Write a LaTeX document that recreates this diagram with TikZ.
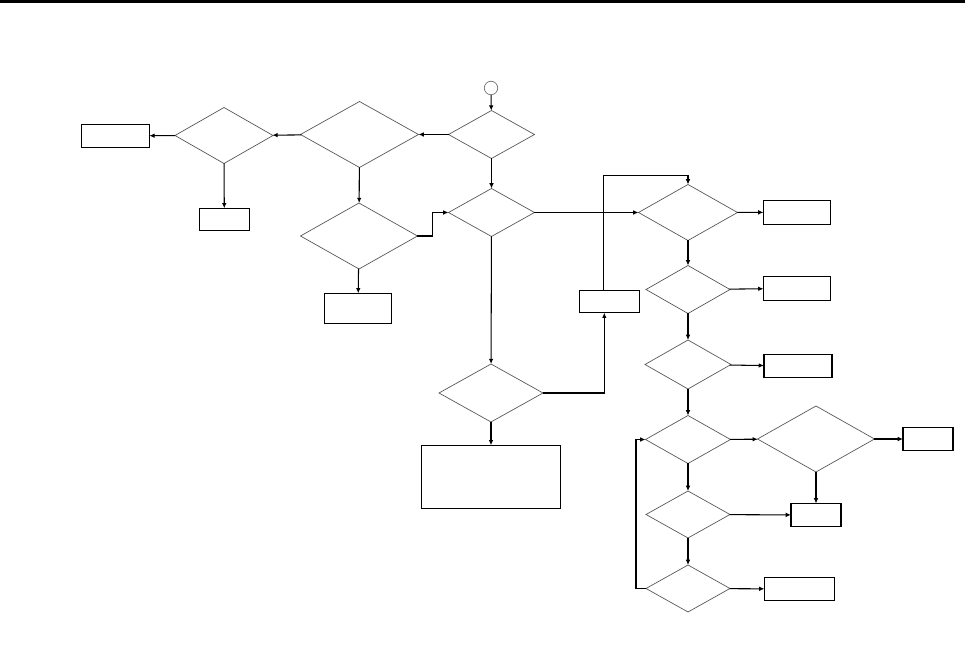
\documentclass[tikz,border=0pt]{standalone}
\usepackage{tikz}
\usetikzlibrary{arrows.meta,shapes.geometric}
\tikzset{
  decbox/.style={diamond, draw=black!65, line width=0.4pt, inner sep=0pt,
    outer sep=0pt},
  endbox/.style={rectangle, draw, line width=0.8pt, inner sep=0pt,
    outer sep=0pt, minimum height=0.46cm},
  startdot/.style={circle, draw=black!55, line width=0.4pt, inner sep=0pt,
    minimum size=0.27cm},
  arrw/.style={-{Latex[length=3pt,width=2.6pt]}, line width=0.6pt},
}

\begin{document}
\begin{tikzpicture}[x=0.02cm, y=-0.02cm]
  \useasboundingbox (0,0) rectangle (965,665);
  \fill (0,0) rectangle (965,2.6);

  % Start and top row
  \node[startdot] (start) at (491,88) {};
  \node[decbox, minimum width=1.72cm, minimum height=0.96cm] (d1) at (491.5,134.5) {};
  \node[decbox, minimum width=2.36cm, minimum height=1.32cm] (d2) at (359.5,134.5) {};
  \node[decbox, minimum width=1.96cm, minimum height=1.12cm] (d3) at (224,135.5) {};
  \node[endbox, minimum width=1.36cm] (b1) at (115.3,135.8) {};
  \node[endbox, minimum width=1.0cm, minimum height=0.44cm] (b2) at (224.3,219.3) {};

  % Left branch
  \node[decbox, minimum width=2.34cm, minimum height=1.32cm] (d4) at (359,236) {};
  \node[endbox, minimum width=1.34cm, minimum height=0.6cm] (b3) at (358,308.3) {};

  % Middle column
  \node[decbox, minimum width=1.72cm, minimum height=0.96cm] (d5) at (491.5,212.5) {};
  \node[decbox, minimum width=2.08cm, minimum height=1.16cm] (d9) at (491,393) {};
  \node[endbox, minimum width=2.78cm, minimum height=1.26cm] (b4) at (491,476.8) {};
  \node[endbox, minimum width=1.2cm, minimum height=0.44cm] (bl) at (609.3,301.7) {};

  % Right column
  \node[decbox, minimum width=1.98cm, minimum height=1.12cm] (d6) at (688,212.5) {};
  \node[decbox, minimum width=1.68cm, minimum height=0.96cm] (d7) at (688,289.5) {};
  \node[decbox, minimum width=1.72cm, minimum height=0.98cm] (d8) at (688,364.5) {};
  \node[decbox, minimum width=1.70cm, minimum height=0.96cm] (d10) at (688,439.5) {};
  \node[decbox, minimum width=1.68cm, minimum height=0.94cm] (d12) at (688,514.5) {};
  \node[decbox, minimum width=1.68cm, minimum height=0.94cm] (d13) at (688,588.5) {};
  \node[decbox, minimum width=2.34cm, minimum height=1.32cm] (d11) at (816,439) {};

  \node[endbox, minimum width=1.34cm, minimum height=0.48cm] (r1) at (797,212.3) {};
  \node[endbox, minimum width=1.34cm, minimum height=0.48cm] (r2) at (797,288.5) {};
  \node[endbox, minimum width=1.36cm] (r3) at (798,366) {};
  \node[endbox, minimum width=1.0cm] (r4) at (928,439) {};
  \node[endbox, minimum width=1.0cm] (r5) at (816,515) {};
  \node[endbox, minimum width=1.40cm] (r6) at (799.5,589) {};

  \coordinate (looptop) at (603.3,175.3);
  \coordinate (upline) at (604.3,0);

  % Arrows, top
  \draw[arrw] (start) -- (d1);
  \draw[arrw] (d1) -- (d2);
  \draw[arrw] (d2) -- (d3);
  \draw[arrw] (d3) -- (b1);
  \draw[arrw] (d3) -- (b2);
  \draw[arrw] (d2) -- (d4);
  \draw[arrw] (d4) -- (b3);
  \draw[arrw] (d4.east) -- ++(15,0) |- (d5.west);
  \draw[arrw] (d1) -- (d5);

  % Arrows, middle
  \draw[arrw] (d5) -- (d9);
  \draw[arrw] (d9) -- (b4);
  \draw[arrw] (d5) -- (d6);
  \draw[arrw] (d9.east) -| (upline |- bl.south);
  \draw[arrw] (looptop |- bl.north) -- (looptop) -| (d6.north);

  % Arrows, right
  \draw[arrw] (d6) -- (d7);
  \draw[arrw] (d7) -- (d8);
  \draw[arrw] (d8) -- (d10);
  \draw[arrw] (d10) -- (d12);
  \draw[arrw] (d12) -- (d13);
  \draw[arrw] (d6) -- (r1);
  \draw[arrw] (d7) -- (r2);
  \draw[arrw] (d8) -- (r3);
  \draw[arrw] (d10) -- (d11);
  \draw[arrw] (d11) -- (r4);
  \draw[arrw] (d11) -- (r5);
  \draw[arrw] (d12) -- (r5);
  \draw[arrw] (d13) -- (r6);
  \draw[arrw] (d13.west) -- ++(-10,0) |- (d10.west);
\end{tikzpicture}
\end{document}
